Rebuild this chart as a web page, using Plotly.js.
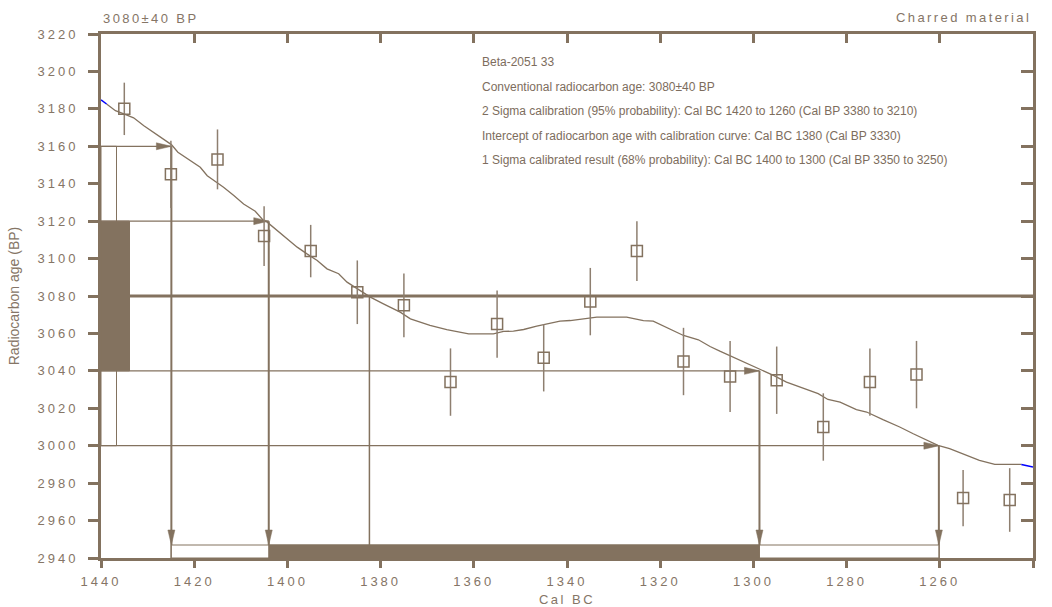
<!DOCTYPE html>
<html>
<head>
<meta charset="utf-8">
<script src="https://cdn.plot.ly/plotly-3.0.1.min.js"></script>
<style>
  html, body { margin: 0; padding: 0; background: #fff; }
  #chart { width: 1052px; height: 607px; }
  .xtick text, .ytick text { letter-spacing: 3px; }
  .g-xtitle text { letter-spacing: 2.5px; }
  text.annotation-text[style*="13px"] { letter-spacing: 2.4px; }
</style>
</head>
<body>
<div id="chart"></div>
<script>
// ---- Data ----
const curveX = [1438.8, 1436.9, 1435.1, 1433.0, 1430.8, 1429.0, 1427.2, 1424.9, 1423.5, 1421.9, 1420.1, 1418.7, 1417.2, 1415.5, 1413.7, 1411.5, 1409.4, 1406.9, 1405.1, 1404.4, 1402.2, 1400.1, 1397.9, 1395.8, 1393.6, 1391.5, 1389.0, 1387.2, 1385.1, 1382.2, 1379.4, 1375.8, 1373.6, 1369.4, 1365.8, 1361.1, 1355.8, 1353.6, 1351.5, 1349.3, 1346.5, 1341.5, 1339.3, 1336.5, 1333.6, 1327.2, 1323.6, 1321.5, 1317.9, 1315.0, 1311.8, 1309.3, 1307.2, 1303.6, 1299.0, 1295.7, 1292.9, 1290.0, 1286.1, 1284.0, 1281.4, 1277.9, 1275.7, 1272.2, 1268.6, 1265.7, 1260.4, 1257.9, 1254.3, 1251.5, 1248.2, 1242.5];
const curveY = [3182.6, 3179.0, 3177.3, 3175.2, 3171.0, 3168.0, 3164.8, 3160.9, 3156.8, 3154.1, 3151.4, 3148.8, 3144.3, 3141.3, 3138.1, 3133.7, 3129.2, 3125.3, 3120.3, 3119.6, 3115.0, 3110.5, 3106.1, 3102.5, 3099.0, 3094.5, 3091.9, 3087.4, 3083.9, 3079.4, 3075.8, 3071.4, 3067.8, 3064.3, 3062.0, 3059.8, 3059.8, 3061.1, 3061.2, 3062.1, 3063.9, 3066.6, 3066.9, 3067.8, 3068.7, 3068.7, 3066.8, 3066.6, 3062.5, 3058.9, 3056.6, 3053.0, 3050.5, 3046.5, 3041.1, 3037.6, 3034.0, 3031.3, 3027.8, 3024.7, 3023.3, 3019.3, 3018.0, 3013.9, 3010.0, 3006.4, 3000.2, 2998.4, 2994.9, 2992.2, 2990.0, 2990.0];
const curveStartX = [1440, 1438.8];
const curveStartY = [3184.8, 3182.6];
const curveEndX = [1242.5, 1240];
const curveEndY = [2990.0, 2988.6];

const sampleX = [1435, 1425, 1415, 1405, 1395, 1385, 1375, 1365, 1355, 1345, 1335, 1325, 1315, 1305, 1295, 1285, 1275, 1265, 1255, 1245];
const sampleY = [3180, 3145, 3153, 3112, 3104, 3082, 3075, 3034, 3065, 3047, 3077, 3104, 3045, 3037, 3035, 3010, 3034, 3038, 2972, 2971];
const sampleErr = [14, 18, 16, 16, 14, 17, 17, 18, 18, 18, 18, 16, 18, 19, 18, 18, 18, 18, 15, 17];

const age = 3080;
const ageErr = 40;
const sigma1 = [1404.0, 1298.7];
const sigma2 = [1424.9, 1260.2];
const intercept = 1382.4;

const xRange = [1440, 1240];
const yRange = [2940, 3220];

const infoLines = [
  "Beta-2051 33",
  "Conventional radiocarbon age: 3080±40 BP",
  "2 Sigma calibration (95% probability): Cal BC 1420 to 1260 (Cal BP 3380 to 3210)",
  "Intercept of radiocarbon age with calibration curve: Cal BC 1380 (Cal BP 3330)",
  "1 Sigma calibrated result (68% probability): Cal BC 1400 to 1300 (Cal BP 3350 to 3250)"
];
const topLeftLabel = "3080±40 BP";
const topRightLabel = "Charred material";

// ---- Styles ----
const BROWN = '#83725f';
const TEXT = '#857566';
const FONT = 'Arial, "Liberation Sans", sans-serif';

const traces = [
  {
    x: curveX, y: curveY, mode: 'lines', type: 'scatter',
    line: { color: BROWN, width: 1.3 }, hoverinfo: 'skip', showlegend: false
  },
  {
    x: curveStartX, y: curveStartY, mode: 'lines', type: 'scatter',
    line: { color: '#0000ff', width: 1.5 }, hoverinfo: 'skip', showlegend: false
  },
  {
    x: curveEndX, y: curveEndY, mode: 'lines', type: 'scatter',
    line: { color: '#0000ff', width: 1.5 }, hoverinfo: 'skip', showlegend: false
  },
  {
    x: sampleX, y: sampleY, mode: 'markers', type: 'scatter',
    marker: { symbol: 'square-open', size: 11, color: BROWN, line: { width: 1.5, color: BROWN } },
    error_y: { type: 'data', array: sampleErr, visible: true, width: 0, thickness: 1.5, color: '#8e7f70' },
    showlegend: false
  },
  {
    x: [xRange[0]], y: [yRange[1]], xaxis: 'x2', yaxis: 'y2', mode: 'markers', type: 'scatter',
    marker: { opacity: 0 }, hoverinfo: 'skip', showlegend: false
  }
];

const shapes = [];
// 2-sigma (open) box on age axis
shapes.push({ type: 'rect', xref: 'x', yref: 'y', xsizemode: 'pixel', xanchor: xRange[0], x0: 0, x1: 15.5,
  y0: age - 2 * ageErr, y1: age + 2 * ageErr, line: { color: BROWN, width: 1 }, fillcolor: 'rgba(0,0,0,0)', layer: 'below' });
// horizontal guide lines, arrows and drop lines
[[age + 2 * ageErr, sigma2[0]], [age - 2 * ageErr, sigma2[1]], [age + ageErr, sigma1[0]], [age - ageErr, sigma1[1]]].forEach(([yv, xv]) => {
  shapes.push({ type: 'line', xref: 'x', yref: 'y', x0: xRange[0], x1: xv, y0: yv, y1: yv,
    line: { color: BROWN, width: 1.2 }, layer: 'below' });
  shapes.push({ type: 'path', xref: 'x', yref: 'y', xsizemode: 'pixel', ysizemode: 'pixel', xanchor: xv, yanchor: yv,
    path: 'M0,0 L-15,3.5 L-15,-3.5 Z', fillcolor: BROWN, line: { color: BROWN, width: 0.5 }, layer: 'below' });
  shapes.push({ type: 'line', xref: 'x', yref: 'y', x0: xv, x1: xv, y0: yv, y1: yRange[0],
    line: { color: BROWN, width: 2 }, layer: 'below' });
  shapes.push({ type: 'path', xref: 'x', yref: 'y', xsizemode: 'pixel', ysizemode: 'pixel', xanchor: xv, yanchor: yRange[0],
    path: 'M0,13 L-3.5,28 L3.5,28 Z', fillcolor: BROWN, line: { color: BROWN, width: 0.5 }, layer: 'below' });
});
// intercept vertical
shapes.push({ type: 'line', xref: 'x', yref: 'y', x0: intercept, x1: intercept, y0: age, y1: yRange[0],
  line: { color: BROWN, width: 1.5 }, layer: 'below' });
// age line
shapes.push({ type: 'line', xref: 'paper', yref: 'y', x0: 0, x1: 1, y0: age, y1: age,
  line: { color: BROWN, width: 3 }, layer: 'below' });
// 1-sigma (filled) box on age axis
shapes.push({ type: 'rect', xref: 'x', yref: 'y', xsizemode: 'pixel', xanchor: xRange[0], x0: 0, x1: 28.5,
  y0: age - ageErr, y1: age + ageErr, line: { color: BROWN, width: 1 }, fillcolor: BROWN, layer: 'below' });
// 2-sigma (open) calendar bar
shapes.push({ type: 'rect', xref: 'x', yref: 'y', ysizemode: 'pixel', yanchor: yRange[0], y0: 0, y1: 13,
  x0: sigma2[0], x1: sigma2[1], line: { color: BROWN, width: 1 }, fillcolor: '#ffffff', layer: 'below' });
// 1-sigma (filled) calendar bar
shapes.push({ type: 'rect', xref: 'x', yref: 'y', ysizemode: 'pixel', yanchor: yRange[0], y0: 0, y1: 13,
  x0: sigma1[0], x1: sigma1[1], line: { color: BROWN, width: 1 }, fillcolor: BROWN, layer: 'below' });

const annotations = [
  { text: topLeftLabel, xref: 'paper', yref: 'paper', x: 0, y: (558 - 18.5) / 524, xanchor: 'left', yanchor: 'middle',
    showarrow: false, font: { family: FONT, size: 13, color: TEXT } },
  { text: topRightLabel, xref: 'paper', yref: 'paper', x: 1, y: (558 - 18) / 524, xanchor: 'right', yanchor: 'middle',
    showarrow: false, font: { family: FONT, size: 13, color: TEXT } }
];
const lineYs = [61.5, 86.5, 111, 135.5, 160];
infoLines.forEach((t, i) => {
  annotations.push({ text: t, xref: 'paper', yref: 'paper', x: (479.5 - 101) / 932, y: (558 - lineYs[i]) / 524,
    xanchor: 'left', yanchor: 'middle', showarrow: false, font: { family: FONT, size: 12, color: '#7d6d5d' } });
});

const axisCommon = {
  showgrid: false, zeroline: false, showline: true, linecolor: BROWN, linewidth: 3,
  tickcolor: BROWN, tickwidth: 3, tickfont: { family: FONT, size: 13, color: TEXT }
};

const layout = {
  width: 1052, height: 607,
  margin: { l: 101, r: 19, t: 34, b: 49 },
  paper_bgcolor: '#ffffff', plot_bgcolor: '#ffffff',
  showlegend: false,
  xaxis: Object.assign({}, axisCommon, {
    range: xRange, dtick: 20, tick0: 1240, ticks: 'outside', ticklen: 7, ticklabelstandoff: 2,
    title: { text: 'Cal BC', font: { family: FONT, size: 13, color: TEXT }, standoff: 9 }
  }),
  yaxis: Object.assign({}, axisCommon, {
    range: yRange, dtick: 20, tick0: 2940, ticks: 'outside', ticklen: 10, ticklabelstandoff: 7,
    title: { text: 'Radiocarbon age (BP)', font: { family: FONT, size: 14, color: TEXT }, standoff: 15 }
  }),
  xaxis2: Object.assign({}, axisCommon, {
    range: xRange, dtick: 20, tick0: 1240, ticks: 'inside', ticklen: 9, overlaying: 'x', side: 'top', showticklabels: false
  }),
  yaxis2: Object.assign({}, axisCommon, {
    range: yRange, dtick: 20, tick0: 2940, ticks: 'inside', ticklen: 12, overlaying: 'y', side: 'right', showticklabels: false
  }),
  shapes: shapes,
  annotations: annotations
};

Plotly.newPlot('chart', traces, layout, { displayModeBar: false, staticPlot: true });
</script>
</body>
</html>
